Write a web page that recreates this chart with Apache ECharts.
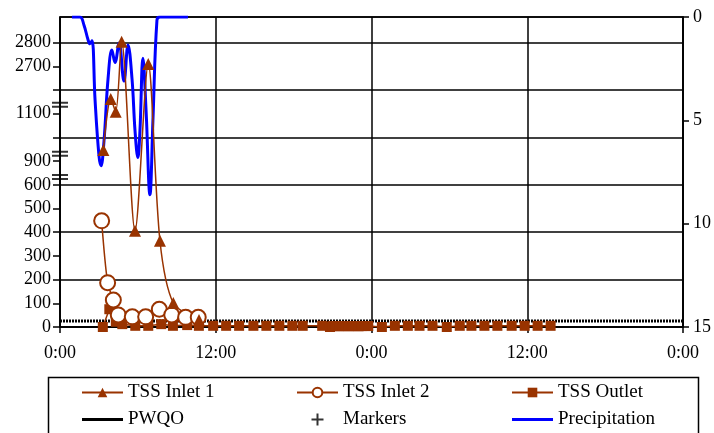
<!DOCTYPE html>
<html>
<head>
<meta charset="utf-8">
<script src="https://cdn.jsdelivr.net/npm/echarts@6/dist/echarts.min.js"></script>
<style>
  html, body { margin: 0; padding: 0; background: #fff; }
  #chart { width: 714px; height: 433px; }
</style>
</head>
<body>
<div id="chart"></div>
<script>
// x values are hours from the first midnight; TSS in plotted axis units (mg/L, broken above 600)
const inlet1Hours = [3.34, 3.91, 4.29, 4.75, 5.78, 6.80, 7.70, 8.73, 10.71];
const inlet1Values = [747, 962, 908, 1204, 406, 1110, 364, 101, 30];

const inlet2Hours = [3.21, 3.67, 4.11, 4.49, 5.57, 6.60, 7.65, 8.61, 9.68, 10.65];
const inlet2Values = [448, 187, 114, 51, 43, 43, 75, 51, 41, 41];

const outletHours = [3.3, 3.8, 4.3, 4.8, 5.8, 6.8, 7.8, 8.7, 9.8, 10.7, 11.8, 12.8, 13.8, 14.9,
  15.9, 16.9, 17.9, 18.7, 20.2, 20.8, 21.0, 21.25, 21.5, 21.75, 22.0, 22.25, 22.5, 22.75, 23.0,
  23.25, 23.5, 23.75, 24.8, 25.8, 26.8, 27.7, 28.7, 29.8, 30.8, 31.7, 32.7, 33.7, 34.8, 35.8,
  36.8, 37.8];
const outletValues = [0, 75, 22, 12, 5, 5, 12, 5, 8, 5, 5, 5, 5, 5,
  5, 5, 5, 5, 5, 0, 4, 4, 3, 4, 4, 3, 4, 4, 3,
  4, 4, 4, 0, 5, 5, 5, 5, 0, 5, 5, 5, 5, 5, 5,
  5, 5];

const pwqoHours = [0, 48];
const pwqoValues = [25, 25];

// axis break marks on the left axis ("Markers" series)
const markerHours = [0, 0, 0];
const markerValues = [633, 731, 938];

const precipHours = [0.92, 1.54, 1.85, 2.16, 2.31, 2.47, 2.70, 3.0, 3.16, 3.39, 3.70, 4.0, 4.24,
  4.55, 4.93, 5.24, 5.55, 5.78, 6.0, 6.16, 6.39, 6.63, 6.93, 7.16, 7.47, 7.7, 9.86];
const precipValues = [0, 0, 0.4, 1.1, 1.3, 1.15, 4.0, 6.7, 7.2, 6.0, 3.0, 1.6, 2.2,
  1.26, 3.1, 1.35, 3.0, 5.5, 6.8, 5.5, 2.0, 4.5, 8.6, 5.0, 0.15, 0, 0];

// left axis: plotted value -> printed label (broken scale)
const leftTickLabels = {0: '0', 100: '100', 200: '200', 300: '300', 400: '400', 500: '500',
  600: '600', 700: '900', 900: '1100', 1100: '2700', 1200: '2800'};
const leftTickValues = [0, 100, 200, 300, 400, 500, 600, 700, 800, 900, 1000, 1100, 1200];
const timeLabels = ['0:00', '12:00'];

const pairs = (xs, ys) => xs.map((x, i) => [x, ys[i]]);

const brown = '#993300';
const font = 'Liberation Serif';
const barIcon = 'path://M0,0H40V3H0Z';

const chart = echarts.init(document.getElementById('chart'));
chart.setOption({
  animation: false,
  backgroundColor: '#fff',
  textStyle: { fontFamily: font, color: '#000' },
  grid: {
    left: 60, right: 31, top: 17, bottom: 106,
    show: true, borderColor: '#000', borderWidth: 1.5
  },
  xAxis: {
    type: 'value', min: 0, max: 48, interval: 12,
    axisLine: { lineStyle: { color: '#000', width: 1.5 } },
    axisTick: { length: 6, lineStyle: { color: '#000', width: 1.5 } },
    axisLabel: {
      color: '#000', fontFamily: font, fontSize: 18, margin: 17,
      formatter: v => timeLabels[(v % 24) / 12]
    },
    splitLine: { show: true, lineStyle: { color: '#000', width: 1.5 } }
  },
  yAxis: [
    {
      type: 'value', min: 0, max: 1308, interval: 100, position: 'left',
      axisLine: { show: true, lineStyle: { color: '#000', width: 1.5 } },
      axisTick: { show: true, length: 7, customValues: leftTickValues, lineStyle: { color: '#000', width: 1.5 } },
      axisLabel: {
        color: '#000', fontFamily: font, fontSize: 18, margin: 9,
        customValues: leftTickValues,
        formatter: v => leftTickLabels[v] ?? ''
      },
      splitLine: { show: false }
    },
    {
      type: 'value', min: 0, max: 1308, interval: 200, position: 'left',
      axisLine: { show: false }, axisTick: { show: false }, axisLabel: { show: false },
      splitLine: { show: true, lineStyle: { color: '#000', width: 1.5 } }
    },
    {
      type: 'value', min: 0, max: 15, interval: 5, inverse: true, position: 'right',
      axisLine: { show: true, lineStyle: { color: '#000', width: 1.5 } },
      axisTick: { show: true, length: 6, lineStyle: { color: '#000', width: 1.5 } },
      axisLabel: { color: '#000', fontFamily: font, fontSize: 18, margin: 10 },
      splitLine: { show: false }
    }
  ],
  legend: [
    { data: ['TSS Inlet 1', { name: 'PWQO', icon: barIcon }], left: 81 },
    { data: ['TSS Inlet 2', { name: 'Markers', icon: 'path://M5,0H7V12H5ZM0,5H12V7H0Z' }], left: 296 },
    { data: ['TSS Outlet', { name: 'Precipitation', icon: barIcon }], left: 511 }
  ].map(l => Object.assign({
    orient: 'vertical', top: 383, padding: 0, height: 60,
    itemWidth: 41, itemHeight: 12, itemGap: 8,
    textStyle: { fontFamily: font, fontSize: 19, color: '#000' }
  }, l)),
  graphic: [{
    type: 'rect', left: 46, top: 375, shape: { width: 650, height: 64 },
    style: { fill: 'none', stroke: '#000', lineWidth: 1.5 }, silent: true
  }],
  series: [
    {
      name: 'Precipitation', type: 'line', yAxisIndex: 2, smooth: 0.4,
      data: pairs(precipHours, precipValues), symbol: 'none',
      lineStyle: { color: '#0000ff', width: 3 }, itemStyle: { color: '#0000ff' }
    },
    {
      name: 'PWQO', type: 'line', yAxisIndex: 0, data: pairs(pwqoHours, pwqoValues),
      symbol: 'none', lineStyle: { color: '#000', width: 3, type: [2, 1] }, itemStyle: { color: '#000' }
    },
    {
      name: 'TSS Outlet', type: 'line', yAxisIndex: 0, data: pairs(outletHours, outletValues),
      symbol: 'rect', symbolSize: 10,
      lineStyle: { color: brown, width: 1.5 }, itemStyle: { color: brown }
    },
    {
      name: 'TSS Inlet 2', type: 'line', yAxisIndex: 0, smooth: 0.3, data: pairs(inlet2Hours, inlet2Values),
      symbol: 'emptyCircle', symbolSize: 15,
      lineStyle: { color: brown, width: 1.5 }, itemStyle: { color: brown, borderWidth: 1.5 }
    },
    {
      name: 'TSS Inlet 1', type: 'line', yAxisIndex: 0, smooth: 0.3, data: pairs(inlet1Hours, inlet1Values),
      symbol: 'triangle', symbolSize: 12,
      lineStyle: { color: brown, width: 1.5 }, itemStyle: { color: brown }
    },
    {
      name: 'Markers', type: 'scatter', yAxisIndex: 0, clip: false,
      data: pairs(markerHours, markerValues),
      symbol: 'path://M0,0H16V2H0ZM0,4H16V6H0Z', symbolSize: [16, 6],
      itemStyle: { color: '#000' }
    }
  ]
});
</script>
</body>
</html>
